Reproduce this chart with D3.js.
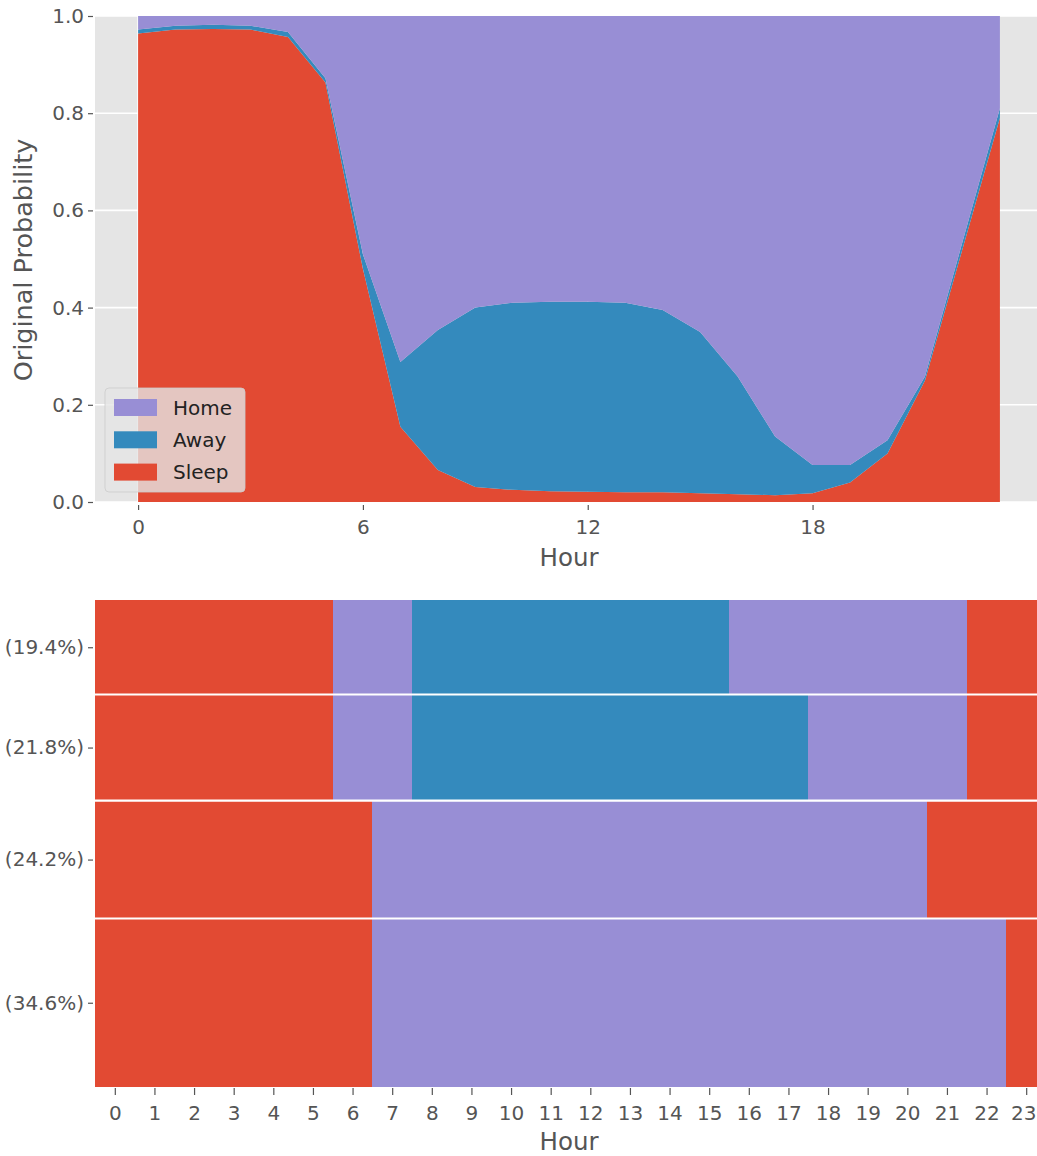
<!DOCTYPE html>
<html>
<head>
<meta charset="utf-8">
<script src="https://cdn.jsdelivr.net/npm/d3@7"></script>
<style>
  html, body { margin: 0; padding: 0; background: #fff; }
  svg { display: block; font-family: "DejaVu Sans", sans-serif; }
</style>
</head>
<body>
<svg id="chart" width="1037" height="1156"></svg>
<script>
// ---------- Data ----------
const hours = d3.range(0, 24);
const stateKeys = ["Sleep", "Away", "Home"];
const legendOrder = ["Home", "Away", "Sleep"];
const stateColors = { Home: "#988ED5", Away: "#348ABD", Sleep: "#E24A33" };

// Top chart: original probability per hour
const sleepProb = [0.964, 0.972, 0.973, 0.972, 0.957, 0.863, 0.48, 0.155, 0.066, 0.031, 0.025, 0.022,
                   0.021, 0.02, 0.02, 0.018, 0.016, 0.014, 0.018, 0.04, 0.10, 0.25, 0.52, 0.79];
const awayProb  = [0.008, 0.008, 0.009, 0.008, 0.01, 0.009, 0.03, 0.133, 0.288, 0.369, 0.385, 0.39,
                   0.391, 0.39, 0.375, 0.332, 0.242, 0.121, 0.058, 0.036, 0.027, 0.008, 0.015, 0.02];
const homeProb  = [0.028, 0.02, 0.018, 0.02, 0.033, 0.128, 0.49, 0.712, 0.646, 0.60, 0.59, 0.588,
                   0.588, 0.59, 0.605, 0.65, 0.742, 0.865, 0.924, 0.924, 0.873, 0.742, 0.465, 0.19];
const topYTicks = [0.0, 0.2, 0.4, 0.6, 0.8, 1.0];
const topXTicks = [0, 6, 12, 18];

// Bottom chart: cluster shares and hourly states (S = Sleep, A = Away, H = Home)
const clusterLabels = ["(19.4%)", "(21.8%)", "(24.2%)", "(34.6%)"];
const clusterShares = [19.4, 21.8, 24.2, 34.6];
const clusterStates = [
  "SSSSSSHHAAAAAAAAHHHHHHSS",
  "SSSSSSHHAAAAAAAAAAHHHHSS",
  "SSSSSSSHHHHHHHHHHHHHHSSS",
  "SSSSSSSHHHHHHHHHHHHHHHHS"
];
const stateCodes = { S: "Sleep", A: "Away", H: "Home" };

// ---------- Drawing ----------
const svg = d3.select("#chart");
const tickColor = "#555555";
const bg = "#E5E5E5";
const tickFont = "20px";
const labelFont = "24.5px";

// ===== Top chart =====
const T = { left: 95, right: 1043, top: 16, bottom: 502 };
const xT = d3.scaleLinear().domain([-1.15, 24.15]).range([T.left, T.right]);
const yT = d3.scaleLinear().domain([0, 1]).range([T.bottom, T.top]);

const gTop = svg.append("g");
gTop.append("rect").attr("x", T.left).attr("y", T.top)
  .attr("width", T.right - T.left).attr("height", T.bottom - T.top).attr("fill", bg);

// grid
gTop.append("g").selectAll("line").data(topYTicks).join("line")
  .attr("x1", T.left).attr("x2", T.right)
  .attr("y1", d => yT(d)).attr("y2", d => yT(d))
  .attr("stroke", "#fff").attr("stroke-width", 1.6);
gTop.append("g").selectAll("line").data(topXTicks).join("line")
  .attr("y1", T.top).attr("y2", T.bottom)
  .attr("x1", d => xT(d)).attr("x2", d => xT(d))
  .attr("stroke", "#fff").attr("stroke-width", 1.6);

const rows = hours.map((h, i) => ({ hour: h, Sleep: sleepProb[i], Away: awayProb[i], Home: homeProb[i] }));
const stack = d3.stack().keys(stateKeys);
const series = stack(rows);
const area = d3.area()
  .x(d => xT(d.data.hour))
  .y0(d => yT(d[0]))
  .y1(d => yT(Math.min(1, d[1])));
gTop.append("g").selectAll("path").data(series).join("path")
  .attr("d", area)
  .attr("fill", d => stateColors[d.key]);

// axes
const axYT = d3.axisLeft(yT).tickValues(topYTicks).tickFormat(d3.format(".1f")).tickSize(5).tickPadding(4);
const gyT = gTop.append("g").attr("transform", `translate(${T.left - 2},0)`).call(axYT);
const axXT = d3.axisBottom(xT).tickValues(topXTicks).tickFormat(d3.format("d")).tickSize(5).tickPadding(10);
const gxT = gTop.append("g").attr("transform", `translate(0,${T.bottom + 3})`).call(axXT);
[gyT, gxT].forEach(g => {
  g.select(".domain").remove();
  g.selectAll(".tick line").attr("stroke", tickColor).attr("stroke-width", 1.2);
  g.selectAll(".tick text").attr("fill", tickColor).style("font-size", tickFont)
    .style("font-family", "DejaVu Sans, sans-serif");
});

gTop.append("text").attr("x", (T.left + T.right) / 2).attr("y", 566)
  .attr("text-anchor", "middle").attr("fill", tickColor).style("font-size", labelFont).text("Hour");
gTop.append("text")
  .attr("transform", `translate(32,${(T.top + T.bottom) / 2 + 1}) rotate(-90)`)
  .attr("text-anchor", "middle").attr("fill", tickColor).style("font-size", "25.5px")
  .text("Original Probability");

// legend
const lg = gTop.append("g").attr("transform", "translate(105,388)");
lg.append("rect").attr("width", 140).attr("height", 104).attr("rx", 4)
  .attr("fill", bg).attr("fill-opacity", 0.8).attr("stroke", "#cccccc").attr("stroke-opacity", 0.8);
const li = lg.selectAll("g.item").data(legendOrder).join("g").attr("class", "item")
  .attr("transform", (d, i) => `translate(9,${11 + i * 32.3})`);
li.append("rect").attr("width", 43).attr("height", 17).attr("fill", d => stateColors[d]);
li.append("text").attr("x", 59).attr("y", 8.5).attr("dy", "0.35em")
  .attr("fill", "#222").style("font-size", "20px").text(d => d);

// ===== Bottom chart =====
const B = { left: 95, right: 1046, top: 600, bottom: 1087 };
const xB = d3.scaleLinear().domain([-0.5, 23.5]).range([B.left, B.right]);
const cum = [0];
clusterShares.forEach(s => cum.push(cum[cum.length - 1] + s));
const yB = d3.scaleLinear().domain([0, cum[cum.length - 1]]).range([B.top, B.bottom]);

const gBot = svg.append("g");
gBot.append("rect").attr("x", B.left).attr("y", B.top)
  .attr("width", B.right - B.left).attr("height", B.bottom - B.top).attr("fill", bg);

// build runs of identical states
const runs = [];
clusterStates.forEach((str, r) => {
  let start = 0;
  for (let h = 1; h <= hours.length; h++) {
    if (h === hours.length || str[h] !== str[start]) {
      runs.push({ row: r, start: hours[start], end: hours[h - 1], state: stateCodes[str[start]] });
      start = h;
    }
  }
});
gBot.append("g").selectAll("rect").data(runs).join("rect")
  .attr("x", d => xB(d.start - 0.5))
  .attr("width", d => xB(d.end + 0.5) - xB(d.start - 0.5))
  .attr("y", d => yB(cum[d.row]))
  .attr("height", d => yB(cum[d.row + 1]) - yB(cum[d.row]))
  .attr("fill", d => stateColors[d.state])
  .attr("shape-rendering", "crispEdges");

// row separators
gBot.append("g").selectAll("line").data(cum.slice(1, -1)).join("line")
  .attr("x1", B.left).attr("x2", B.right)
  .attr("y1", d => yB(d)).attr("y2", d => yB(d))
  .attr("stroke", "#fff").attr("stroke-width", 2.2);

// axes
const rowCenters = clusterShares.map((s, i) => (cum[i] + cum[i + 1]) / 2);
const axYB = d3.axisLeft(yB).tickValues(rowCenters)
  .tickFormat((d, i) => clusterLabels[i]).tickSize(5).tickPadding(4);
const gyB = gBot.append("g").attr("transform", `translate(${B.left - 2},0)`).call(axYB);
const axXB = d3.axisBottom(xB).tickValues(hours).tickFormat(d3.format("d")).tickSize(7).tickPadding(11);
const gxB = gBot.append("g").attr("transform", `translate(0,${B.bottom + 1})`).call(axXB);
[gyB, gxB].forEach(g => {
  g.select(".domain").remove();
  g.selectAll(".tick line").attr("stroke", tickColor).attr("stroke-width", 1.2);
  g.selectAll(".tick text").attr("fill", tickColor).style("font-size", tickFont)
    .style("font-family", "DejaVu Sans, sans-serif");
});
// keep the last hour label inside the picture, as in the reference
gxB.selectAll(".tick text").filter(d => d === 23).attr("dx", "-3px");
gBot.append("text").attr("x", 569).attr("y", 1150)
  .attr("text-anchor", "middle").attr("fill", tickColor).style("font-size", labelFont).text("Hour");
</script>
</body>
</html>
